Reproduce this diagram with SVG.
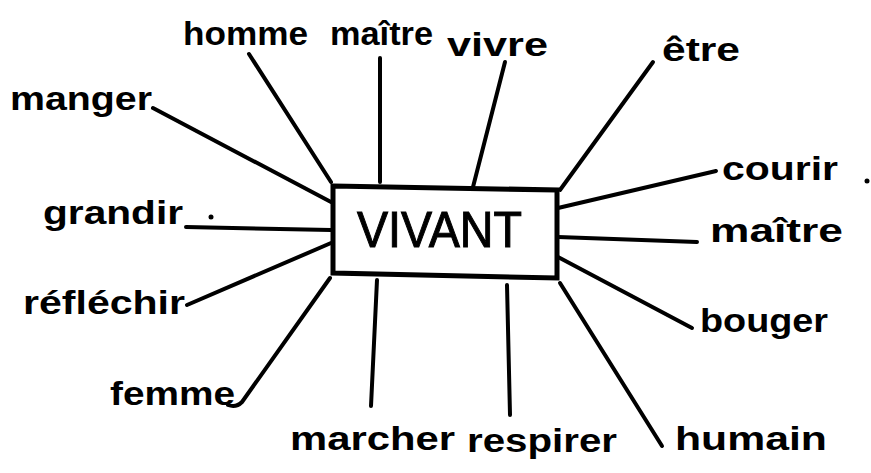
<svg xmlns="http://www.w3.org/2000/svg" width="871" height="473" viewBox="0 0 871 473">
<style>
.w{font-family:"Liberation Sans","DejaVu Sans",sans-serif;font-size:34px;font-weight:bold;fill:#000}
.c{stroke:#000;stroke-width:4;fill:none;stroke-linecap:round;stroke-linejoin:round}
.box{stroke:#000;stroke-width:5;fill:#fff}
.title{font-family:"Liberation Sans","DejaVu Sans",sans-serif;font-size:50px;fill:#000;stroke:#000;stroke-width:1}
</style>
<rect width="871" height="473" fill="#fff"/>
<g id="connectors">
<path class="c" d="M249,54 L331,182"/>
<path class="c" d="M380,58 L380,182"/>
<path class="c" d="M505,62 L473,187"/>
<path class="c" d="M653,62 L560,190"/>
<path class="c" d="M153,108 L331,202"/>
<path class="c" d="M186,227 L331,230"/>
<path class="c" d="M187,305 L331,243"/>
<path class="c" d="M330,278 L242,402 Q236,408 228,405"/>
<path class="c" d="M377,280 L371,406"/>
<path class="c" d="M507,285 L510,415"/>
<path class="c" d="M560,283 L662,446"/>
<path class="c" d="M558,257 L692,328"/>
<path class="c" d="M558,237 L697,242"/>
<path class="c" d="M558,208 L716,171"/>
</g>
<g id="vivant">
<polygon class="box" points="333,186 557,190 557,278 333,273"/>
<text class="title" x="357" y="247" textLength="165" lengthAdjust="spacingAndGlyphs">VIVANT</text>
</g>
<g id="n-homme"><text class="w" x="183" y="45" textLength="125" lengthAdjust="spacingAndGlyphs">homme</text></g>
<g id="n-maitre-haut"><text class="w" x="330" y="45" textLength="103" lengthAdjust="spacingAndGlyphs">maître</text></g>
<g id="n-vivre"><text class="w" x="447" y="56" textLength="101" lengthAdjust="spacingAndGlyphs">vivre</text></g>
<g id="n-etre"><text class="w" x="662" y="61" textLength="78" lengthAdjust="spacingAndGlyphs">être</text></g>
<g id="n-manger"><text class="w" x="10" y="110" textLength="142" lengthAdjust="spacingAndGlyphs">manger</text></g>
<g id="n-grandir"><text class="w" x="43" y="224" textLength="140" lengthAdjust="spacingAndGlyphs">grandir</text><circle cx="211" cy="217" r="2.5" fill="#000"/></g>
<g id="n-reflechir"><text class="w" x="23" y="314" textLength="162" lengthAdjust="spacingAndGlyphs">réfléchir</text></g>
<g id="n-femme"><text class="w" x="110" y="405" textLength="125" lengthAdjust="spacingAndGlyphs">femme</text></g>
<g id="n-marcher"><text class="w" x="290" y="450" textLength="165" lengthAdjust="spacingAndGlyphs">marcher</text></g>
<g id="n-respirer"><text class="w" x="467" y="452" textLength="150" lengthAdjust="spacingAndGlyphs">respirer</text></g>
<g id="n-humain"><text class="w" x="675" y="450" textLength="152" lengthAdjust="spacingAndGlyphs">humain</text></g>
<g id="n-bouger"><text class="w" x="700" y="332" textLength="128" lengthAdjust="spacingAndGlyphs">bouger</text></g>
<g id="n-maitre-droite"><text class="w" x="710" y="242" textLength="133" lengthAdjust="spacingAndGlyphs">maître</text></g>
<g id="n-courir"><text class="w" x="722" y="180" textLength="116" lengthAdjust="spacingAndGlyphs">courir</text><circle cx="867" cy="181" r="2.5" fill="#000"/></g>
</svg>
